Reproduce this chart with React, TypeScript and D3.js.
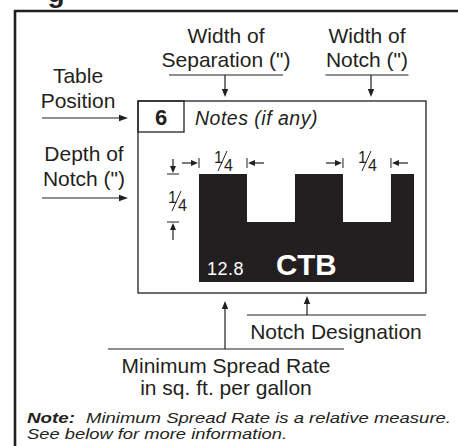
import * as d3 from 'd3';

// notch profile in inches (1/4" notch, 1/4" separation, 1/4" depth)
const toothEdges = [0, 0.25, 0.5, 0.75, 1.0, 1.12];
const notchDepth = 0.25;
const trowelDepth = 0.5625;
const fractionLabel = ['1', '4'];
const tablePosition = '6';
const notesText = 'Notes (if any)';
const spreadRate = '12.8';
const designation = 'CTB';
const topLabels = [
  { lines: ['Width of', 'Separation (")'] },
  { lines: ['Width of', 'Notch (")'] },
];
const sideLabels = [
  { lines: ['Table', 'Position'] },
  { lines: ['Depth of', 'Notch (")'] },
];
const bottomLabels = [
  { lines: ['Notch Designation'] },
  { lines: ['Minimum Spread Rate', 'in sq. ft. per gallon'] },
];
const noteBold = 'Note:';
const noteLines = ['Minimum Spread Rate is a relative measure.', 'See below for more information.'];

const ink = '#231f20';
const font = '"Liberation Sans", Arial, Helvetica, sans-serif';

const x = d3.scaleLinear().domain([0, 1.12]).range([199, 414]);
const y = d3.scaleLinear().domain([0, trowelDepth]).range([174, 282]);

// arrow from (x1,y1) to tip (x2,y2)
const Arrow = ({ x1, y1, x2, y2, head = 8, w = 3.2 }: any) => {
  const a = Math.atan2(y2 - y1, x2 - x1);
  const bx = x2 - head * Math.cos(a);
  const by = y2 - head * Math.sin(a);
  const px = -Math.sin(a) * w;
  const py = Math.cos(a) * w;
  return (
    <g>
      <line x1={x1} y1={y1} x2={bx} y2={by} stroke={ink} strokeWidth={1.2} />
      <polygon points={`${x2},${y2} ${bx + px},${by + py} ${bx - px},${by - py}`} fill={ink} />
    </g>
  );
};

const Fraction = ({ cx, cy, size = 16 }: any) => (
  <g fill={ink} fontFamily={font} fontSize={size}>
    <text x={cx - 4.5} y={cy - 1} textAnchor="middle">{fractionLabel[0]}</text>
    <line x1={cx - 5} y1={cy + 7} x2={cx + 4} y2={cy - 13} stroke={ink} strokeWidth={1} />
    <text x={cx + 5.5} y={cy + 7} textAnchor="middle">{fractionLabel[1]}</text>
  </g>
);

export default function App() {
  const last = toothEdges.length - 1;
  const profile: [number, number][] = [[toothEdges[0], trowelDepth]];
  toothEdges.forEach((e, i) => {
    if (i === 0 || i === last) { profile.push([e, 0]); return; }
    if (i % 2 === 1) profile.push([e, 0], [e, notchDepth]);
    else profile.push([e, notchDepth], [e, 0]);
  });
  profile.push([toothEdges[last], trowelDepth]);
  const line = d3.line<[number, number]>().x(d => x(d[0])).y(d => y(d[1]));

  const t0 = x(toothEdges[0]), t1 = x(toothEdges[1]);
  const n0 = x(toothEdges[3]), n1 = x(toothEdges[4]);
  const dTop = y(0), dBot = y(notchDepth);

  return (
    <svg width={458} height={446} style={{ position: 'absolute', left: 0, top: 0, background: '#fff' }}>
      <rect width={458} height={446} fill="#fff" />
      <text x={56} y={2} fontFamily={font} fontWeight="bold" fontSize={28} fill={ink} textAnchor="middle">g</text>
      {/* outer frame */}
      <path d="M15,446 V11 H458" fill="none" stroke={ink} strokeWidth={2.6} />

      {/* inner box */}
      <rect x={138} y={101} width={288} height={192} fill="none" stroke={ink} strokeWidth={1.3} />
      <rect x={138} y={101} width={46} height={31} fill="none" stroke={ink} strokeWidth={1.3} />
      <text x={161} y={125} fontFamily={font} fontWeight="bold" fontSize={22} fill={ink} textAnchor="middle">{tablePosition}</text>
      <text x={195} y={125} fontFamily={font} fontStyle="italic" fontSize={19.5} letterSpacing={0.5} fill={ink}>{notesText}</text>

      {/* notch profile */}
      <path d={line(profile) ?? ''} fill={ink} />
      <text x={207} y={275} fontFamily={font} fontSize={18} letterSpacing={0.5} fill="#fff">{spreadRate}</text>
      <text x={276} y={275} fontFamily={font} fontWeight="bold" fontSize={29.5} fill="#fff">{designation}</text>

      {/* width dimension marks */}
      {[[t0, t1], [n0, n1]].map(([a, b], i) => (
        <g key={i}>
          <line x1={a} y1={158} x2={a} y2={168} stroke={ink} strokeWidth={1} />
          <line x1={b} y1={158} x2={b} y2={168} stroke={ink} strokeWidth={1} />
          <Arrow x1={a - 17} y1={163} x2={a - 1} y2={163} head={7} w={3} />
          <Arrow x1={b + 17} y1={163} x2={b + 1} y2={163} head={7} w={3} />
          <Fraction cx={(a + b) / 2} cy={164} />
        </g>
      ))}

      {/* depth dimension marks */}
      <line x1={167} y1={dTop} x2={179} y2={dTop} stroke={ink} strokeWidth={1} />
      <Arrow x1={173} y1={dTop - 15} x2={173} y2={dTop - 1} head={7} w={3} />
      <line x1={167} y1={dBot} x2={179} y2={dBot} stroke={ink} strokeWidth={1} />
      <Arrow x1={173} y1={dBot + 18} x2={173} y2={dBot + 1} head={7} w={3} />
      <Fraction cx={177} cy={204} />

      {/* top labels */}
      {topLabels.map((l, i) => {
        const cx = i === 0 ? 226 : 367;
        const ax = i === 0 ? 225 : 371;
        const w = i === 0 ? 114 : 83;
        return (
          <g key={i}>
            {l.lines.map((s, j) => (
              <text key={j} x={cx} y={43 + j * 24} fontFamily={font} fontSize={21} fill={ink} textAnchor="middle">{s}</text>
            ))}
            <line x1={cx - w / 2} y1={75} x2={cx + w / 2} y2={75} stroke={ink} strokeWidth={1.2} />
            <Arrow x1={ax} y1={75} x2={ax} y2={97} head={8} w={3.2} />
          </g>
        );
      })}

      {/* side labels */}
      {sideLabels.map((l, i) => {
        const cx = i === 0 ? 78 : 84;
        const base = i === 0 ? 83 : 161;
        const ay = i === 0 ? 118 : 198;
        return (
          <g key={i}>
            {l.lines.map((s, j) => (
              <text key={j} x={cx} y={base + j * 25} fontFamily={font} fontSize={21} fill={ink} textAnchor="middle">{s}</text>
            ))}
            <Arrow x1={42} y1={ay} x2={128} y2={ay} head={9} w={3.3} />
          </g>
        );
      })}

      {/* bottom labels */}
      <line x1={247} y1={315} x2={426} y2={315} stroke={ink} strokeWidth={1.2} />
      <Arrow x1={307} y1={315} x2={307} y2={296} head={8} w={3.2} />
      <text x={336} y={339} fontFamily={font} fontSize={21} fill={ink} textAnchor="middle">{bottomLabels[0].lines[0]}</text>
      <line x1={108} y1={349} x2={344} y2={349} stroke={ink} strokeWidth={1.2} />
      <Arrow x1={225} y1={349} x2={225} y2={301} head={8} w={3.2} />
      {bottomLabels[1].lines.map((s, j) => (
        <text key={j} x={226} y={373 + j * 22} fontFamily={font} fontSize={21} fill={ink} textAnchor="middle">{s}</text>
      ))}

      {/* note */}
      <text x={27} y={423} fontFamily={font} fontStyle="italic" fontWeight="bold" fontSize={15} textLength={48} lengthAdjust="spacingAndGlyphs" fill={ink}>{noteBold}</text>
      <text x={86} y={423} fontFamily={font} fontStyle="italic" fontSize={15} textLength={365} lengthAdjust="spacingAndGlyphs" fill={ink}>{noteLines[0]}</text>
      <text x={27} y={438.5} fontFamily={font} fontStyle="italic" fontSize={15} textLength={260} lengthAdjust="spacingAndGlyphs" fill={ink}>{noteLines[1]}</text>
    </svg>
  );
}
